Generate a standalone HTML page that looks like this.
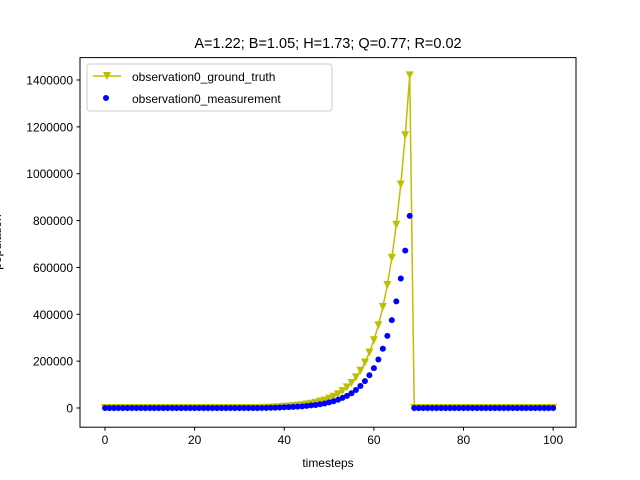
<!DOCTYPE html>
<html><head><meta charset="utf-8"><style>
body{margin:0;background:#fff;}
svg{display:block;font-family:"Liberation Sans","DejaVu Sans",sans-serif;}
</style></head><body>
<svg id="chart" width="640" height="480">
<rect width="640" height="480" fill="#fff"/>
<text x="328" y="48" font-size="14.5" text-anchor="middle">A=1.22; B=1.05; H=1.73; Q=0.77; R=0.02</text>
<g id="marks"></g>
<rect x="80" y="57.6" width="496" height="369.6" fill="none" stroke="#000" stroke-width="1"/>
<g id="ticks" font-size="12"></g>
<text x="328" y="467" font-size="12" text-anchor="middle">timesteps</text>
<text transform="translate(1,242) rotate(-90)" font-size="12" text-anchor="middle">population</text>
<g>
<rect x="87" y="64" width="245" height="47" rx="3" fill="#fff" fill-opacity="0.8" stroke="#ccc"/>
<line x1="93" y1="76" x2="121" y2="76" stroke="#bfbf00" stroke-width="1.5"/>
<path d="M103,72 L111,72 L107,80 Z" fill="#bfbf00"/>
<text x="132" y="81" font-size="12">observation0_ground_truth</text>
<circle cx="106" cy="98" r="3" fill="#0000ff"/>
<text x="132" y="103" font-size="12">observation0_measurement</text>
</g>
</svg>
<script>
const groundTruth = [
0,0,0,0,0,0,0,0, 0,0,0,0,0,0,0,0, 0,0,0,0,0,0,0,0, 0,0,0,0,0,0,0,0,
100,200,300,500,800,1500,2500,3500,5400,6600,8000,10000,12000,15000,18000,22000,27000,32000,40000,48000,59000,72000,88000,107000,131000,159000,194000,237000,289000,353000,431000,525000,641000,782000,954000,1164000,1420000,
0,0,0,0,0,0,0,0, 0,0,0,0,0,0,0,0, 0,0,0,0,0,0,0,0, 0,0,0,0,0,0,0,0];
const measurement = [
0,0,0,0,0,0,0,0, 0,0,0,0,0,0,0,0, 0,0,0,0,0,0,0,0, 0,0,0,0,0,0,0,0, 0,
100,200,300,500,900,1400,2000,3100,3800,4600,5800,7000,9000,11000,13000,16000,19000,24000,29000,35000,43000,52000,63000,77000,94000,115000,140000,170000,207000,253000,308000,375000,455000,553000,672000,820000,
0,0,0,0,0,0,0,0, 0,0,0,0,0,0,0,0, 0,0,0,0,0,0,0,0, 0,0,0,0,0,0,0,0];
const xTicks = [0,20,40,60,80,100];
const yTicks = [0,200000,400000,600000,800000,1000000,1200000,1400000];
const xMin=-5.58, xMax=105.1, yMin=-81900, yMax=1495600;
const L=80,R=576,T=57.6,B=427.2;
const sx=v=>L+(v-xMin)/(xMax-xMin)*(R-L);
const sy=v=>B-(v-yMin)/(yMax-yMin)*(B-T);
const NS="http://www.w3.org/2000/svg";
const marks=document.getElementById('marks');
const ticks=document.getElementById('ticks');
function mk(tag,attrs,parent){const e=document.createElementNS(NS,tag);for(const k in attrs)e.setAttribute(k,attrs[k]);parent.appendChild(e);return e;}
let pts=groundTruth.map((v,i)=>sx(i).toFixed(2)+','+sy(v).toFixed(2)).join(' ');
const line=mk('polyline',{points:pts,fill:'none',stroke:'#bfbf00','stroke-width':1.5},marks);


groundTruth.forEach((v,i)=>{const x=sx(i),y=sy(v);
 const m=mk('path',{d:`M${x-4},${y-4} L${x+4},${y-4} L${x},${y+4} Z`,fill:'#bfbf00'},marks);
 
 
});
measurement.forEach((v,i)=>{
 const c=mk('circle',{cx:sx(i),cy:sy(v),r:3,fill:'#0000ff'},marks);
 
 
});
xTicks.forEach(t=>{const x=sx(t);
 mk('line',{x1:x,y1:B,x2:x,y2:B+3.5,stroke:'#000'},ticks);
 const tx=mk('text',{x:x,y:B+17,'text-anchor':'middle'},ticks);tx.textContent=t;
 
 
});
yTicks.forEach(t=>{const y=sy(t);
 mk('line',{x1:L-3.5,y1:y,x2:L,y2:y,stroke:'#000'},ticks);
 const tx=mk('text',{x:L-7,y:y+4.5,'text-anchor':'end'},ticks);tx.textContent=t;
 
 
});
</script>
</body></html>
